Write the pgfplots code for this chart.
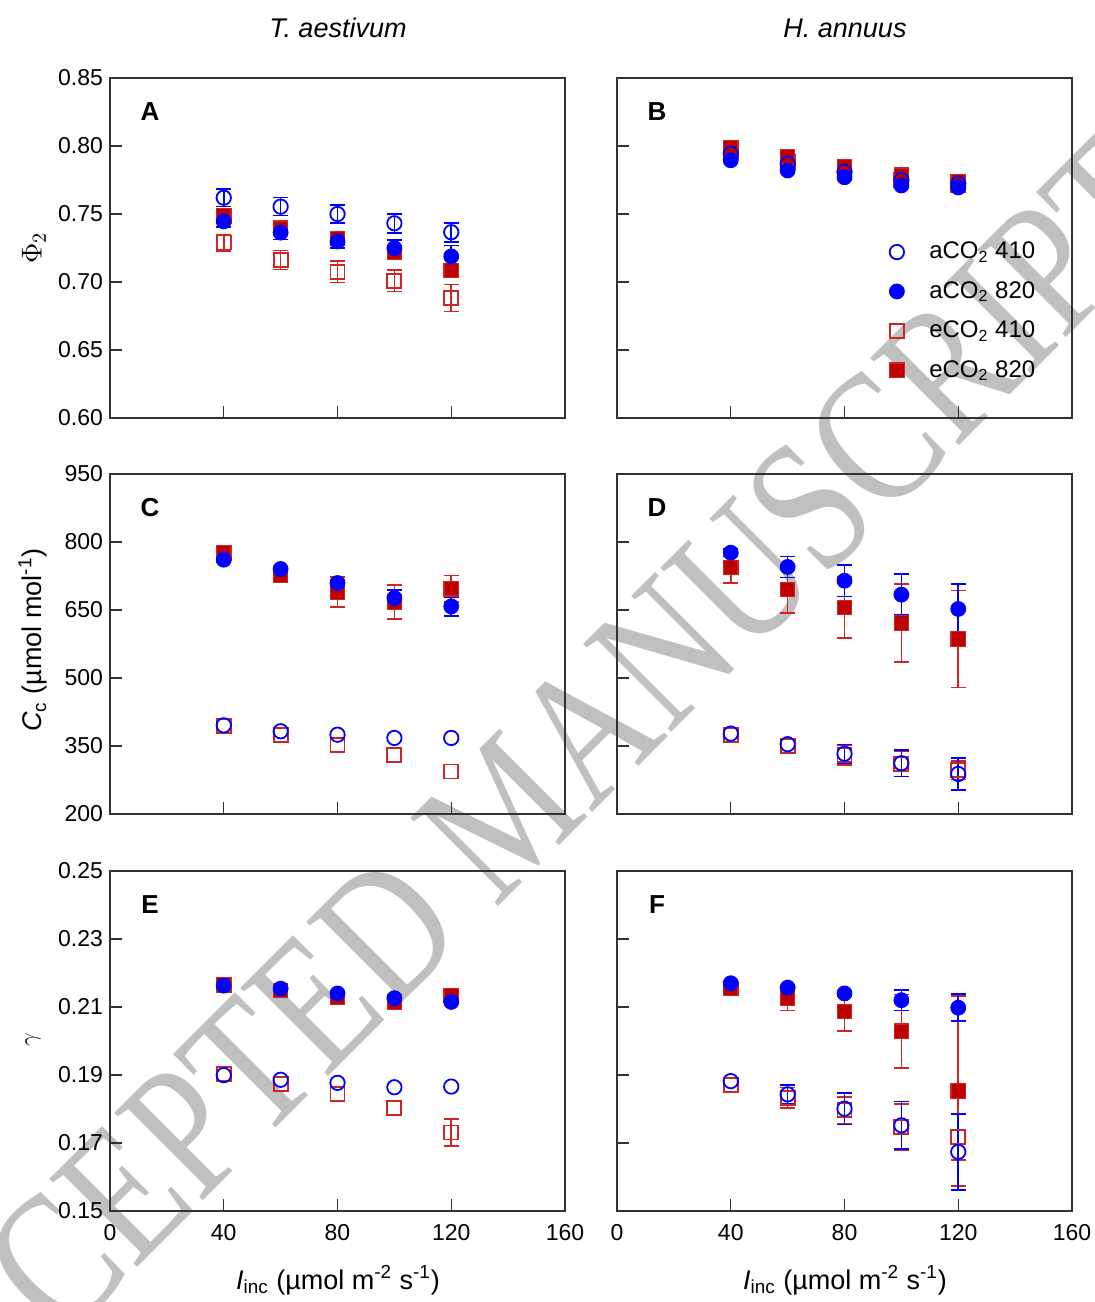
\documentclass[border=0pt]{standalone}
\usepackage{fontspec}
\setmainfont{Liberation Sans}
\newfontfamily\wmfont{Liberation Serif}
\usepackage{pgfplots}
\pgfplotsset{compat=1.18}

\definecolor{cblue}{RGB}{0,0,255}
\definecolor{cred}{RGB}{208,36,36}
\definecolor{cdred}{RGB}{190,0,0}
\definecolor{wm}{RGB}{192,192,192}
\definecolor{axgray}{RGB}{50,50,50}

\pgfplotsset{
  panel/.style={
    scale only axis, width=227.5pt, height=170pt, anchor=south west,
    xmin=0, xmax=160, xtick={0,40,...,160},
    tick align=inside, xtick pos=bottom, ytick pos=left,
    major tick length=6pt,
    axis line style={draw=axgray, line width=0.75pt},
    every tick/.style={draw=axgray, line width=0.7pt},
    tick label style={font=\fontsize{11.5}{12}\selectfont},
    xticklabel style={yshift=-3pt},
    /pgf/number format/assume math mode=true,
    clip=false,
  },
  dec2/.style={yticklabel style={/pgf/number format/.cd, fixed, fixed zerofill, precision=2}},
  mAo/.style={only marks, mark=o, mark size=3.6pt, color=cblue, mark options={line width=0.9pt}},
  mAf/.style={only marks, mark=*, mark size=3.7pt, color=cblue, mark options={line width=0.5pt}},
  mEo/.style={only marks, mark=square, mark size=3.5pt, color=cred, mark options={line width=0.9pt}},
  mEf/.style={only marks, mark=square*, mark size=3.6pt, color=cred, mark options={fill=cdred, draw=cred, line width=0.6pt}},
  eb/.style={
    error bars/y dir=both, error bars/y explicit,
    error bars/error bar style={line width=0.8pt},
    error bars/error mark options={rotate=90, mark size=3.7pt, line width=0.8pt},
  },
}
\newcommand{\plab}[1]{\node[font=\bfseries\fontsize{13}{13}\selectfont] at (rel axis cs:0.088,0.9) {#1};}

\begin{document}
\begin{tikzpicture}
\path[use as bounding box] (0,0) rectangle (547pt,-651pt);

% watermark behind everything
\begin{scope}
\clip (0,0) rectangle (547pt,-651pt);
\node[font=\wmfont\fontsize{76}{80}\selectfont, text=wm, rotate=45, yscale=1.25] at (253.5pt,-405pt) {ACCEPTED MANUSCRIPT};
\end{scope}

% ---------- A ----------
\begin{axis}[panel, dec2, at={(55pt,-209pt)}, ymin=0.60, ymax=0.85,
  ytick={0.60,0.65,...,0.85}, xticklabels={}]
\addplot[mEo, eb] table[x index=0, y index=1, y error index=2, row sep=\\] {
40 0.729 0.006\\ 60 0.7161 0.007\\ 80 0.7076 0.008\\ 100 0.701 0.008\\ 120 0.6883 0.010\\};
\addplot[mEf, eb] table[x index=0, y index=1, y error index=2, row sep=\\] {
40 0.7485 0.005\\ 60 0.7395 0.005\\ 80 0.732 0.005\\ 100 0.7217 0.005\\ 120 0.7085 0.005\\};
\addplot[mAo, eb] table[x index=0, y index=1, y error index=2, row sep=\\] {
40 0.762 0.0065\\ 60 0.7554 0.0066\\ 80 0.750 0.0065\\ 100 0.7432 0.007\\ 120 0.7366 0.007\\};
\addplot[mAf, eb] table[x index=0, y index=1, y error index=2, row sep=\\] {
40 0.7446 0.004\\ 60 0.7363 0.005\\ 80 0.7298 0.005\\ 100 0.7249 0.006\\ 120 0.7188 0.008\\};
\plab{A}
\end{axis}

% ---------- B ----------
\begin{axis}[panel, at={(308.5pt,-209pt)}, ymin=0.60, ymax=0.85,
  ytick={0.60,0.65,...,0.85}, xticklabels={}, yticklabels={},
  legend style={draw=none, fill=none, at={(0.598,0.53)}, anchor=north west,
    inner sep=0pt, row sep=5.8pt, font=\fontsize{12}{13}\selectfont,
    /tikz/every odd column/.append style={column sep=10.5pt}},
  legend cell align=left]
\addplot[mEo, forget plot] table[row sep=\\] {
40 0.796\\ 60 0.788\\ 80 0.781\\ 100 0.775\\ 120 0.771\\};
\addplot[mEf, forget plot] table[row sep=\\] {
40 0.799\\ 60 0.792\\ 80 0.785\\ 100 0.7785\\ 120 0.7737\\};
\addplot[mAo, forget plot] table[row sep=\\] {
40 0.7944\\ 60 0.787\\ 80 0.781\\ 100 0.775\\ 120 0.7724\\};
\addplot[mAf, forget plot] table[row sep=\\] {
40 0.7895\\ 60 0.782\\ 80 0.777\\ 100 0.771\\ 120 0.7695\\};
\addlegendimage{mAo}\addlegendentry{aCO\textsubscript{2} 410}
\addlegendimage{mAf}\addlegendentry{aCO\textsubscript{2} 820}
\addlegendimage{mEo}\addlegendentry{eCO\textsubscript{2} 410}
\addlegendimage{mEf}\addlegendentry{eCO\textsubscript{2} 820}
\plab{B}
\end{axis}

% ---------- C ----------
\begin{axis}[panel, at={(55pt,-407pt)}, ymin=200, ymax=950,
  ytick={200,350,...,950}, xticklabels={}]
\addplot[mEo] table[row sep=\\] {
40 394\\ 60 375\\ 80 353\\ 100 329.6\\ 120 294\\};
\addplot[mEf, eb] table[x index=0, y index=1, y error index=2, row sep=\\] {
40 775.7 6\\ 60 726.5 8\\ 80 689.7 33\\ 100 667.7 37\\ 120 697 29\\};
\addplot[mAo] table[row sep=\\] {
40 395.6\\ 60 382.5\\ 80 375\\ 100 367.8\\ 120 367.8\\};
\addplot[mAf, eb] table[x index=0, y index=1, y error index=2, row sep=\\] {
40 761 5\\ 60 740.5 5\\ 80 709.6 6\\ 100 676.5 18\\ 120 658 21\\};
\plab{C}
\end{axis}

% ---------- D ----------
\begin{axis}[panel, at={(308.5pt,-407pt)}, ymin=200, ymax=950,
  ytick={200,350,...,950}, xticklabels={}, yticklabels={}]
\addplot[mEo] table[row sep=\\] {
40 373.7\\ 60 349.5\\};
\addplot[mEo, eb] table[x index=0, y index=1, y error index=2, row sep=\\] {
80 329.6 22\\ 100 310.5 28\\ 120 296.5 20\\};
\addplot[mEf, eb] table[x index=0, y index=1, y error index=2, row sep=\\] {
40 744 34\\ 60 695.6 52\\ 80 656 68\\ 100 621.4 86\\ 120 586 107\\};
\addplot[mAo] table[row sep=\\] {
40 377.4\\ 60 354\\};
\addplot[mAo, eb] table[x index=0, y index=1, y error index=2, row sep=\\] {
80 333 20\\ 100 312 29\\ 120 288.4 35\\};
\addplot[mAf, eb] table[x index=0, y index=1, y error index=2, row sep=\\] {
40 776.5 8\\ 60 745 23.5\\ 80 714.7 35\\ 100 683.9 45\\ 120 652.3 55\\};
\plab{D}
\end{axis}

% ---------- E ----------
\begin{axis}[panel, dec2, at={(55pt,-605.5pt)}, ymin=0.15, ymax=0.25,
  ytick={0.15,0.17,...,0.25}]
\addplot[mEo] table[row sep=\\] {
40 0.1902\\ 60 0.1874\\ 80 0.1845\\ 100 0.1803\\};
\addplot[mEo, eb] table[x index=0, y index=1, y error index=2, row sep=\\] {
120 0.1731 0.004\\};
\addplot[mEf] table[row sep=\\] {
40 0.21655\\ 60 0.2148\\ 80 0.2128\\ 100 0.2114\\ 120 0.2134\\};
\addplot[mAo] table[row sep=\\] {
40 0.18996\\ 60 0.1886\\ 80 0.1877\\ 100 0.1864\\ 120 0.1866\\};
\addplot[mAf] table[row sep=\\] {
40 0.2163\\ 60 0.2154\\ 80 0.2140\\ 100 0.2126\\ 120 0.2115\\};
\plab{E}
\end{axis}

% ---------- F ----------
\begin{axis}[panel, at={(308.5pt,-605.5pt)}, ymin=0.15, ymax=0.25,
  ytick={0.15,0.17,...,0.25}, yticklabels={}]
\addplot[mEo] table[row sep=\\] {
40 0.1870\\};
\addplot[mEo, eb] table[x index=0, y index=1, y error index=2, row sep=\\] {
60 0.1833 0.003\\ 80 0.1796 0.004\\ 100 0.1747 0.0068\\ 120 0.1718 0.0068\\};
\addplot[mEf, eb] table[x index=0, y index=1, y error index=2, row sep=\\] {
40 0.2155 0.0005\\ 60 0.2125 0.0035\\ 80 0.2087 0.0057\\ 100 0.2029 0.0108\\ 120 0.1853 0.028\\};
\addplot[mAo] table[row sep=\\] {
40 0.1882\\};
\addplot[mAo, eb] table[x index=0, y index=1, y error index=2, row sep=\\] {
60 0.1843 0.0027\\ 80 0.1801 0.0046\\ 100 0.1752 0.007\\ 120 0.1674 0.0112\\};
\addplot[mAf, eb] table[x index=0, y index=1, y error index=2, row sep=\\] {
40 0.2170 0.0005\\ 60 0.2157 0.0005\\ 80 0.2140 0.0005\\ 100 0.2120 0.003\\ 120 0.2098 0.004\\};
\plab{F}
\end{axis}

% titles and axis labels
\node[font=\itshape\fontsize{13.5}{14}\selectfont] at (169pt,-14pt) {T. aestivum};
\node[font=\itshape\fontsize{13.5}{14}\selectfont] at (422.5pt,-14pt) {H. annuus};
\node[rotate=90, font=\fontsize{14}{15}\selectfont] at (17pt,-124pt) {$\Phi_2$};
\node[rotate=90, font=\fontsize{13.5}{14}\selectfont] at (16.5pt,-320pt) {\textit{C}\textsubscript{c} (µmol mol\textsuperscript{-1})};
\node[rotate=90, font=\fontsize{13}{14}\selectfont] at (16.5pt,-520pt) {$\gamma$};
\node[font=\fontsize{13.5}{14}\selectfont] at (169pt,-640pt) {\textit{I}\textsubscript{inc} (µmol m\textsuperscript{-2} s\textsuperscript{-1})};
\node[font=\fontsize{13.5}{14}\selectfont] at (422.5pt,-640pt) {\textit{I}\textsubscript{inc} (µmol m\textsuperscript{-2} s\textsuperscript{-1})};
\end{tikzpicture}
\end{document}
